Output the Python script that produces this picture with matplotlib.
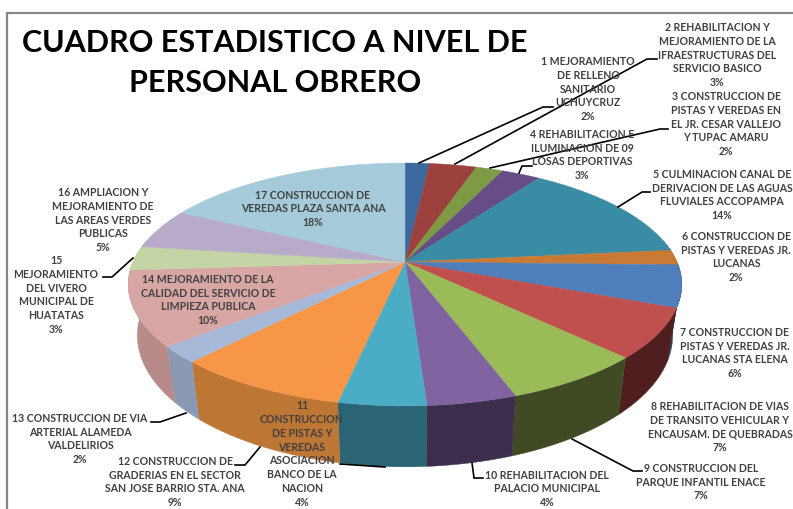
#!/usr/bin/env python3
"""Pie chart in 3D look: personal obrero por proyecto."""

import matplotlib

matplotlib.use("Agg")
import matplotlib.pyplot as plt
import numpy as np

TITLE = "CUADRO ESTADISTICO A NIVEL DE\nPERSONAL OBRERO"

# slice sizes, clockwise from 12 o'clock
SHARES = [1.7, 3.3, 1.9, 2.7, 13.8, 2.0, 5.6, 6.6, 7.0, 4.4, 4.3, 8.6, 2.2, 9.9, 3.2, 5.4, 17.5]
PERCENTS = [2, 3, 2, 3, 14, 2, 6, 7, 7, 4, 4, 9, 2, 10, 3, 5, 18]
NAMES = [
    "1 MEJORAMIENTO\nDE RELLENO\nSANITARIO\nUCHUYCRUZ",
    "2 REHABILITACION Y\nMEJORAMIENTO DE LA\nIFRAESTRUCTURAS DEL\nSERVICIO BASICO",
    "3 CONSTRUCCION DE\nPISTAS Y VEREDAS EN\nEL JR. CESAR VALLEJO\nY TUPAC AMARU",
    "4 REHABILITACION E\nILUMINACION DE 09\nLOSAS DEPORTIVAS",
    "5 CULMINACION CANAL DE\nDERIVACION DE LAS AGUAS\nFLUVIALES ACCOPAMPA",
    "6 CONSTRUCCION DE\nPISTAS Y VEREDAS JR.\nLUCANAS",
    "7 CONSTRUCCION DE\nPISTAS Y VEREDAS JR.\nLUCANAS STA ELENA",
    "8 REHABILITACION DE VIAS\nDE TRANSITO VEHICULAR Y\nENCAUSAM. DE QUEBRADAS",
    "9 CONSTRUCCION DEL\nPARQUE INFANTIL ENACE",
    "10 REHABILITACION DEL\nPALACIO MUNICIPAL",
    "11\nCONSTRUCCION\nDE PISTAS Y\nVEREDAS\nASOCIACION\nBANCO DE LA\nNACION",
    "12 CONSTRUCCION DE\nGRADERIAS EN EL SECTOR\nSAN JOSE BARRIO STA. ANA",
    "13 CONSTRUCCION DE VIA\nARTERIAL ALAMEDA\nVALDELIRIOS",
    "14 MEJORAMIENTO DE LA\nCALIDAD DEL SERVICIO DE\nLIMPIEZA PUBLICA",
    "15\nMEJORAMIENTO\nDEL VIVERO\nMUNICIPAL DE\nHUATATAS",
    "16 AMPLIACION Y\nMEJORAMIENTO DE\nLAS AREAS VERDES\nPUBLICAS",
    "17 CONSTRUCCION DE\nVEREDAS PLAZA SANTA ANA",
]
TOP_COLORS = [
    "#3C6A9E", "#9C413E", "#7E9A45", "#664D85", "#3A8CA4", "#C97A35",
    "#4F7FBA", "#BF504E", "#9BBB59", "#8064A2", "#4BACC6", "#F79646",
    "#A7B9D8", "#D9A6A6", "#C4D5A5", "#B8ABC9", "#A5CBDB",
]
WALL_COLORS = [
    "#2A4A6E", "#6E2E2C", "#586C30", "#47365D", "#286273", "#8D5525",
    "#27405E", "#4E1F1E", "#404A24", "#3E2E4E", "#2B6474", "#BE7635",
    "#8A9AB4", "#B88A8A", "#A0B080", "#8F8499", "#80A0AD",
]

# label centres in pixels
LABEL_POS = [
    (588, 89), (717, 55), (726, 124), (582, 155), (722, 195), (736, 257),
    (735, 353), (720, 427), (701, 482), (547, 489), (302, 454), (175, 482),
    (80, 439), (208, 300), (56, 295), (103, 220), (313, 209),
]
LEADERS = [
    [(419, 163), (543, 107), (553, 107)],
    [(455, 164), (647, 59), (657, 59)],
    [(490, 168), (660, 129), (668, 129)],
    [(519, 173), (522, 166), (532, 166)],
    [(618, 207), (642, 192), (650, 192)],
    [(572, 439), (633, 471), (642, 471)],
    [(472, 463), (474, 478), (483, 478)],
    [(340, 464), (385, 467)],
    [(260, 447), (245, 465), (235, 465)],
    [(186, 413), (160, 422), (151, 422)],
    [(133, 258), (112, 277), (103, 277)],
]

# projection of the tilted disc, in pixels
CX, TOP_Y, BOTTOM_Y = 405, 262, 311
RX, RY_TOP, RY_BOTTOM = 272, 117.3, 127
KP = 0.185
BOTTOM_SCALE = 0.967


def rim(frac, cy, ry, scale=1.0):
    ang = frac * 2 * np.pi
    xs, ys = np.sin(ang), np.cos(ang)
    w = 1 + KP * ys
    return CX + scale * RX * xs / w, cy - ry * ys / w


def main():
    fig = plt.figure(figsize=(7.93, 5.09), dpi=100)
    ax = fig.add_axes([0, 0, 1, 1])
    ax.set_xlim(0, 793)
    ax.set_ylim(509, 0)
    ax.axis("off")

    ax.plot([7, 7, 793], [509, 13, 13], color="#878787", lw=1.6, solid_joinstyle="miter")

    edges = np.cumsum([0] + SHARES) / sum(SHARES)

    # side wall first, the top disc covers the back part of it
    for i in range(len(SHARES)):
        lo, hi = max(edges[i], 0.22), min(edges[i + 1], 0.78)
        if hi <= lo:
            continue
        fr = np.linspace(lo, hi, 40)
        x1, y1 = rim(fr, TOP_Y, RY_TOP)
        x2, y2 = rim(fr, BOTTOM_Y, RY_BOTTOM, BOTTOM_SCALE)
        ax.fill(
            np.r_[x1, x2[::-1]], np.r_[y1, y2[::-1]],
            color=WALL_COLORS[i], lw=0.3, zorder=2,
        )

    for i in range(len(SHARES)):
        fr = np.linspace(edges[i], edges[i + 1], 40)
        x1, y1 = rim(fr, TOP_Y, RY_TOP)
        ax.fill(np.r_[CX, x1], np.r_[TOP_Y, y1], color=TOP_COLORS[i], lw=0.3, zorder=3)

    for pts in LEADERS:
        xs, ys = zip(*pts)
        ax.plot(xs, ys, color="black", lw=1.2, zorder=4, solid_joinstyle="miter")

    ax.text(
        275, 63, TITLE, ha="center", va="center", family="Lato", fontweight="bold",
        fontsize=22, color="black", linespacing=1.5, zorder=6,
    )
    for name, pct, (x, y) in zip(NAMES, PERCENTS, LABEL_POS):
        ax.text(
            x, y, f"{name}\n{pct}%", ha="center", va="center", family="Lato",
            fontweight="bold", fontsize=7.6, color="#404040", linespacing=1.33, zorder=5,
        )

    fig.savefig("out.png", dpi=100)


if __name__ == "__main__":
    main()
